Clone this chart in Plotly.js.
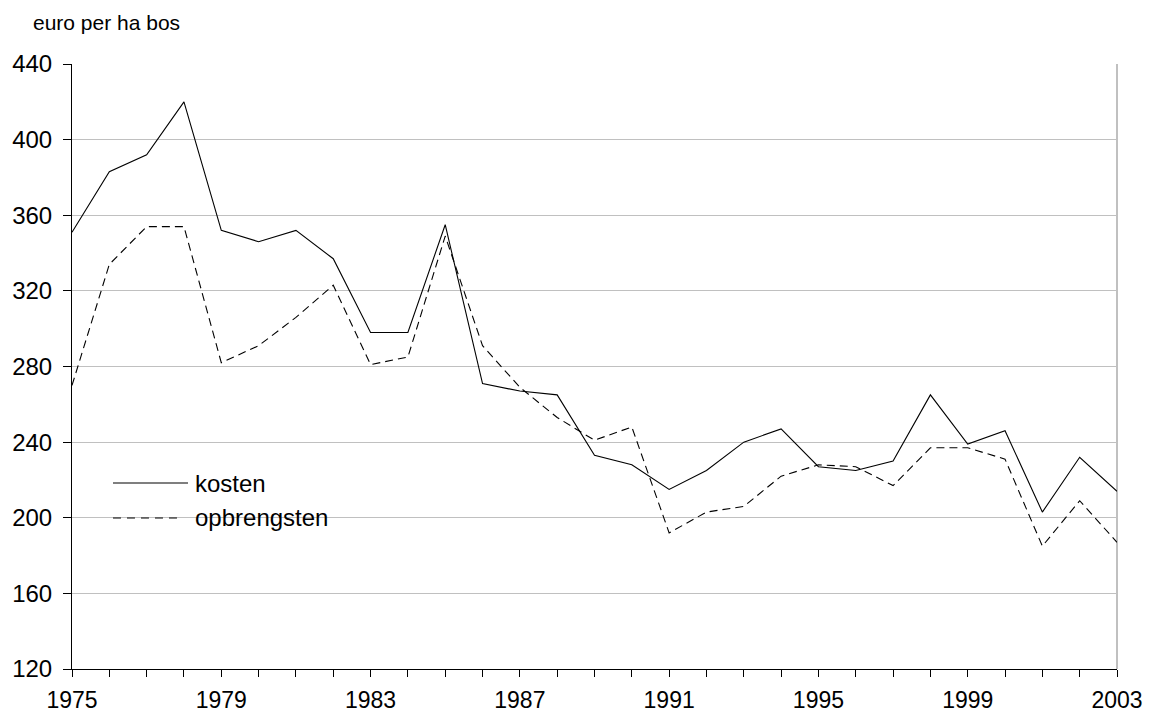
<!DOCTYPE html>
<html>
<head>
<meta charset="utf-8">
<script src="https://cdn.plot.ly/plotly-3.0.1.min.js"></script>
<style>html,body{margin:0;padding:0;background:#fff;}#chart{width:1151px;height:717px;}</style>
</head>
<body>
<div id="chart"></div>
<script>
var years = [1975,1976,1977,1978,1979,1980,1981,1982,1983,1984,1985,1986,1987,1988,1989,1990,1991,1992,1993,1994,1995,1996,1997,1998,1999,2000,2001,2002,2003];
var kosten = [351,383,392,420,352,346,352,337,298,298,355,271,267,265,233,228,215,225,240,247,227,225,230,265,239,246,203,232,214];
var opbrengsten = [270,334,354,354,282,291,306,323,281,285,349,291,269,253,241,248,192,203,206,222,228,227,217,237,237,231,185,209,187];
var tickLabels = years.map(function(y){ return ((y-1975)%4===0) ? String(y) : ''; });
var yTicks = [120,160,200,240,280,320,360,400,440];

var FONT = 'Liberation Sans, Arial, sans-serif';

var traces = [
  {x: years, y: kosten, name: 'kosten', type: 'scatter', mode: 'lines',
   line: {color: '#000000', width: 1.1}, hoverinfo: 'x+y'},
  {x: years, y: opbrengsten, name: 'opbrengsten', type: 'scatter', mode: 'lines',
   line: {color: '#000000', width: 1.1, dash: '8px,5px'}, hoverinfo: 'x+y'}
];

var layout = {
  width: 1151, height: 717,
  margin: {l: 72, r: 34, t: 64, b: 48},
  paper_bgcolor: '#ffffff', plot_bgcolor: '#ffffff',
  showlegend: false,
  font: {family: FONT, color: '#000000', size: 24},
  xaxis: {
    range: [1975, 2003], tickmode: 'array', tickvals: years, ticktext: tickLabels,
    ticks: 'outside', ticklen: 7, tickcolor: '#000', tickwidth: 1,
    ticklabelstandoff: 3,
    showline: true, linecolor: '#000', linewidth: 1, showgrid: false, zeroline: false,
    tickfont: {size: 23, family: FONT}, fixedrange: true
  },
  yaxis: {
    range: [120, 440], tickmode: 'array', tickvals: yTicks,
    ticks: 'outside', ticklen: 8, tickcolor: '#000', tickwidth: 1,
    ticklabelstandoff: 6,
    showline: true, linecolor: '#000', linewidth: 1,
    showgrid: true, gridcolor: '#c0c0c0', gridwidth: 1, zeroline: false,
    tickfont: {size: 24, family: FONT}, fixedrange: true
  },
  shapes: [
    {type: 'line', xref: 'paper', yref: 'paper', x0: 1, x1: 1, y0: 0, y1: 1,
     line: {color: '#c0c0c0', width: 2}, layer: 'below'},
    {type: 'rect', xref: 'paper', yref: 'paper', x0: 0.0306, x1: 0.2545, y0: 0.2264, y1: 0.332,
     fillcolor: '#ffffff', line: {width: 0}, layer: 'between'},
    {type: 'line', xref: 'paper', yref: 'paper', x0: 0.0392, x1: 0.111, y0: 0.3074, y1: 0.3074,
     line: {color: '#000', width: 1.1}},
    {type: 'line', xref: 'paper', yref: 'paper', x0: 0.0392, x1: 0.106, y0: 0.2496, y1: 0.2496,
     line: {color: '#000', width: 1.1, dash: '8px,6px'}}
  ],
  annotations: [
    {text: 'euro per ha bos', xref: 'paper', yref: 'paper', x: -0.0392, y: 1.068,
     xanchor: 'left', yanchor: 'middle', showarrow: false, font: {size: 21, family: FONT}},
    {text: 'kosten', xref: 'paper', yref: 'paper', x: 0.1158, y: 0.3074,
     xanchor: 'left', yanchor: 'middle', showarrow: false, font: {size: 24, family: FONT}},
    {text: 'opbrengsten', xref: 'paper', yref: 'paper', x: 0.1158, y: 0.2496,
     xanchor: 'left', yanchor: 'middle', showarrow: false, font: {size: 24, family: FONT}}
  ]
};

Plotly.newPlot('chart', traces, layout, {displayModeBar: false});
</script>
</body>
</html>
